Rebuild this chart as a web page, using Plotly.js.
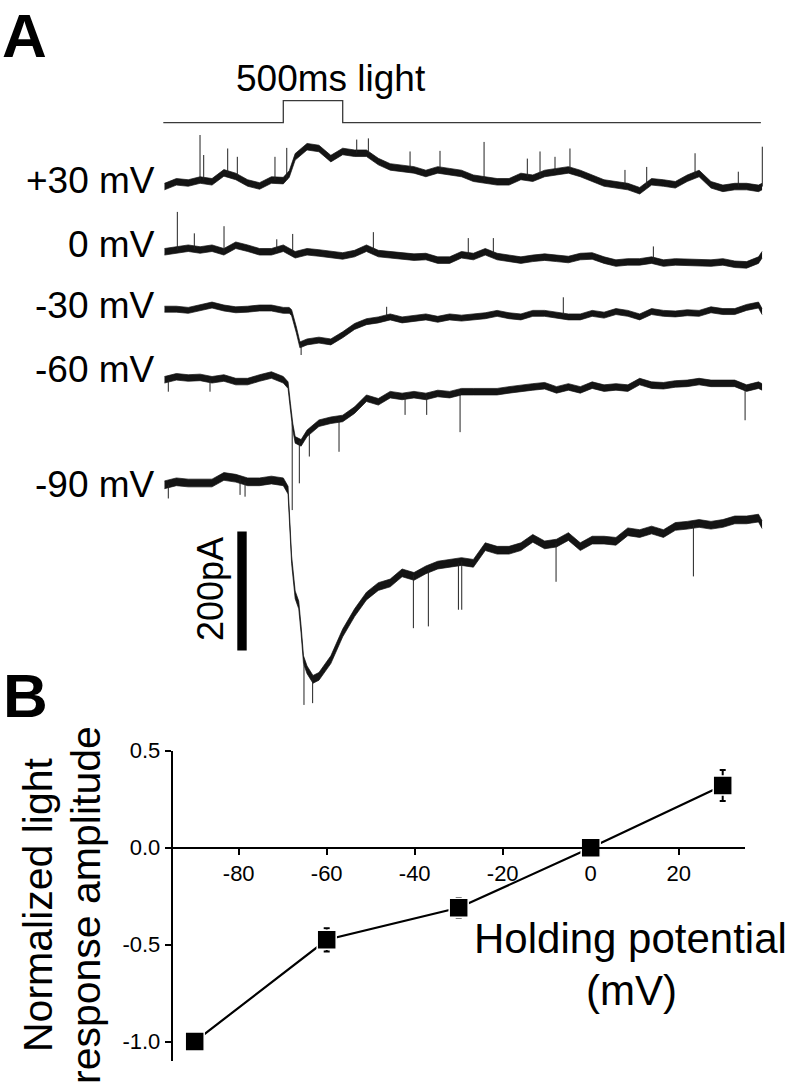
<!DOCTYPE html>
<html>
<head>
<meta charset="utf-8">
<script src="https://cdn.plot.ly/plotly-3.0.1.min.js"></script>
<style>html,body{margin:0;padding:0;background:#fff}#chart{width:795px;height:1090px}</style>
</head>
<body>
<div id="chart"></div>
<script>
// ---------------- DATA ----------------
// Panel A: whole-cell currents (pA, relative to pre-light baseline) vs time (ms)
const holdLabels = ['+30 mV', '0 mV', '-30 mV', '-60 mV', '-90 mV'];

const tP30 = [0,100,200,300,400,500,600,700,800,900,1000,1050,1100,1200,1300,1400,1500,1600,1700,1800,1900,2000,2100,2200,2300,2400,2500,2600,2700,2800,2900,3000,3100,3200,3300,3400,3500,3600,3700,3800,3900,4000,4100,4200,4300,4400,4500,4600,4700,4800,4900,5000,5030];
const vP30 = [-6,2,0,5,2,17,11,0,-5,5,4,15,44,61,58,41,53,50,50,36,27,25,22,16,22,19,16,8,5,2,2,11,8,16,19,22,16,8,0,-3,-6,-13,2,0,-3,8,16,-3,-9,-6,-6,-9,-6];
const spkTP30 = [299,330,532,613,930,1029,1618,1716,2067,2319,2690,3054,3161,3287,3413,3876,4059,4466,4830,5032];
const spkBaseP30 = [5,5,17,11,5,5,50,50,22,22,5,10,10,19,22,-5,-6,12,-6,-6];
const spkTipP30 = [86,47,58,44,44,59,73,75,53,54,69,41,53,44,58,22,27,50,19,61];

const t0mV = [0,100,200,300,400,500,600,700,800,900,1000,1100,1200,1300,1400,1500,1600,1700,1800,1900,2000,2100,2200,2300,2400,2500,2600,2700,2800,2900,3000,3100,3200,3300,3400,3500,3600,3700,3800,3900,4000,4100,4200,4300,4400,4500,4600,4700,4800,4900,5000,5030];
const v0mV = [-3,0,3,0,3,-3,8,3,-3,-3,3,-8,-3,-5,-8,-10,-6,3,-6,-8,-11,-12,-11,-17,-17,-8,-11,-3,-11,-14,-17,-14,-12,-14,-16,-11,-10,-17,-22,-20,-20,-17,-22,-20,-21,-22,-22,-20,-24,-25,-17,-8];
const spkT0mV = [108,251,501,945,1079,1758,2557,2768,4115];
const spkBase0mV = [0,1,-3,-3,0,-2,-9,-6,-18];
const spkTip0mV = [64,28,40,18,27,30,20,20,6];

const tM30 = [0,100,200,300,400,500,600,700,800,900,1000,1050,1070,1110,1140,1200,1300,1400,1500,1600,1700,1800,1900,2000,2100,2200,2300,2400,2500,2600,2700,2800,2900,3000,3100,3200,3300,3400,3500,3600,3700,3800,3900,4000,4100,4200,4300,4400,4500,4600,4700,4800,4900,5000,5030];
const vM30 = [-2,-2,-4,0,5,0,-3,-2,0,0,-4,-4,-8,-37,-62,-57,-54,-57,-45,-31,-23,-20,-15,-20,-17,-15,-19,-15,-17,-15,-13,-9,-13,-15,-9,-9,-12,-15,-15,-9,-12,-6,-9,-15,-6,-9,-10,-8,-9,-3,-6,-6,1,5,-6];
const spkTM30 = [1150,1870,3357];
const spkBaseM30 = [-62,-15,-12];
const spkTipM30 = [-79,2,18];

const tM60 = [0,100,200,300,400,500,600,700,800,900,1000,1040,1060,1080,1100,1150,1200,1300,1400,1500,1600,1700,1800,1900,2000,2100,2200,2300,2400,2500,2600,2700,2800,2900,3000,3100,3200,3300,3400,3500,3600,3700,3800,3900,4000,4100,4200,4300,4400,4500,4600,4700,4800,4900,5000,5030];
const vM60 = [-3,2,0,1,-3,0,-6,-6,0,5,-3,-12,-48,-82,-104,-109,-93,-76,-71,-68,-54,-34,-40,-28,-31,-28,-31,-26,-28,-23,-23,-23,-23,-20,-17,-15,-13,-20,-15,-20,-12,-17,-15,-17,-6,-12,-13,-10,-9,-6,-9,-9,-9,-17,-12,-15];
const spkTM60 = [32,383,1075,1135,1219,1469,2025,2207,2488,4887];
const spkBaseM60 = [-3,-3,-75,-106,-93,-68,-31,-31,-24,-15];
const spkTipM60 = [-23,-23,-222,-177,-132,-124,-62,-62,-91,-71];

const tM90 = [0,100,200,300,400,500,600,700,800,900,1000,1040,1070,1100,1130,1150,1170,1200,1250,1300,1400,1500,1600,1700,1800,1900,2000,2100,2200,2300,2400,2500,2600,2700,2800,2900,3000,3100,3200,3300,3400,3500,3600,3700,3800,3900,4000,4100,4200,4300,4400,4500,4600,4700,4800,4900,5000,5030];
const vM90 = [-3,2,0,0,0,11,8,2,2,5,2,-12,-129,-188,-205,-247,-297,-314,-330,-325,-297,-252,-218,-190,-174,-168,-151,-157,-146,-138,-135,-132,-135,-107,-113,-113,-107,-93,-104,-101,-90,-107,-96,-96,-98,-82,-85,-79,-85,-73,-71,-68,-71,-68,-62,-62,-59,-70];
const spkTM90 = [32,636,678,1174,1247,2095,2221,2474,2502,3296,4452];
const spkBaseM90 = [-3,8,2,-305,-330,-155,-146,-135,-132,-101,-70];
const spkTipM90 = [-26,-20,-23,-373,-370,-244,-241,-213,-213,-166,-157];

// light stimulus (ms, on/off)
const stimT = [-10,1000,1000,1500,1500,5020];
const stimOn = [0,0,1,1,0,0];
const stimLabel = '500ms light';
const scaleBarPA = 200;
const scaleBarLabel = '200pA';

// Panel B: normalized light response vs holding potential
const vHold = [-90,-60,-30,0,30];
const ampNorm = [-1.0,-0.475,-0.31,0.0,0.32];
const ampSem = [0,0.06,0.05,0,0.08];
const xTickVals = [-80,-60,-40,-20,0,20];
const xTickText = ['-80','-60','-40','-20','0','20'];
const yTickVals = [-1.0,-0.5,0.0,0.5];
const yTickText = ['-1.0','-0.5','0.0','0.5'];

// ---------------- LAYOUT CONSTANTS ----------------
const W = 795, H = 1090;
const px = x => x / W, py = y => 1 - y / H;
const FONT = 'Liberation Sans, Arial, Helvetica, sans-serif';
const PX_PER_PA = 0.595, PX_PER_MS = 0.1188, T0_PX = 164.5;
const ROWS = [183, 250, 308, 378, 483];
const LABEL_ROWS = [181, 244, 305, 370, 484];
const NOISE = [5.5, 5.5, 5, 5.5, 6.5];   // half thickness of the drawn noise band (pA)
const STIM_ROW = 122.7, STIM_PX = 22;

const recs = [
  {t: tP30, v: vP30, st: spkTP30, sb: spkBaseP30, sp: spkTipP30},
  {t: t0mV, v: v0mV, st: spkT0mV, sb: spkBase0mV, sp: spkTip0mV},
  {t: tM30, v: vM30, st: spkTM30, sb: spkBaseM30, sp: spkTipM30},
  {t: tM60, v: vM60, st: spkTM60, sb: spkBaseM60, sp: spkTipM60},
  {t: tM90, v: vM90, st: spkTM90, sb: spkBaseM90, sp: spkTipM90}
];

const data = [];
data.push({x: stimT, y: stimOn, xaxis: 'x', yaxis: 'y3', mode: 'lines',
  line: {color: '#3a3a3a', width: 1.3}, hoverinfo: 'skip'});

recs.forEach((r, k) => {
  const off = ROWS[k] / PX_PER_PA;
  data.push({x: r.t, y: r.v.map(a => a - NOISE[k] - off), xaxis: 'x', yaxis: 'y', mode: 'lines',
    line: {color: '#111', width: 0.7}, hoverinfo: 'skip'});
  data.push({x: r.t, y: r.v.map(a => a + NOISE[k] - off), xaxis: 'x', yaxis: 'y', mode: 'lines',
    fill: 'tonexty', fillcolor: '#141414', line: {color: '#111', width: 0.7}, hoverinfo: 'skip'});
  const sx = [], sy = [];
  r.st.forEach((tt, i) => { sx.push(tt, tt, null); sy.push(r.sb[i] - off, r.sp[i] - off, null); });
  data.push({x: sx, y: sy, xaxis: 'x', yaxis: 'y', mode: 'lines',
    line: {color: '#222', width: 1.0}, hoverinfo: 'skip', connectgaps: false});
});

const SB_T = (242 - T0_PX) / PX_PER_MS, SB_TOP = 531.5 / PX_PER_PA;
data.push({x: [SB_T, SB_T], y: [-SB_TOP, -SB_TOP - scaleBarPA], xaxis: 'x', yaxis: 'y', mode: 'lines',
  line: {color: '#000', width: 9.4}, hoverinfo: 'skip'});

data.push({x: vHold, y: ampNorm, xaxis: 'x2', yaxis: 'y2', mode: 'lines+markers',
  line: {color: '#000', width: 2.2},
  marker: {symbol: 'square', size: 19, color: '#000', line: {color: '#fff', width: 1.5}},
  error_y: {type: 'data', array: ampSem, visible: true, color: '#000', thickness: 2, width: 3},
  hoverinfo: 'skip'});

function ann(text, x, y, size, extra) {
  return Object.assign({text: text, x: px(x), y: py(y), xref: 'paper', yref: 'paper',
    showarrow: false, xanchor: 'center', yanchor: 'middle',
    font: {family: FONT, size: size, color: '#000'}}, extra || {});
}

const annotations = [
  ann('<b>A</b>', 1, 0, 62, {xanchor: 'left', yanchor: 'top', borderpad: 0}),
  ann('<b>B</b>', 1, 695, 62, {xanchor: 'left'}),
  ann(stimLabel, 331, 78, 37),
  ann(scaleBarLabel, 210, 589, 36, {textangle: -90}),
  ann('Normalized light', 38, 905, 41, {textangle: -90}),
  ann('response amplitude', 86, 905, 41, {textangle: -90}),
  ann('Holding potential', 630, 938, 42),
  ann('(mV)', 631, 990, 42)
];
holdLabels.forEach((lab, k) => annotations.push(ann(lab, 157, LABEL_ROWS[k], 37, {xanchor: 'right'})));

const layout = {
  width: W, height: H,
  margin: {l: 0, r: 0, t: 0, b: 0, pad: 0},
  paper_bgcolor: '#fff', plot_bgcolor: 'rgba(0,0,0,0)',
  showlegend: false,
  font: {family: FONT, color: '#000'},
  xaxis: {domain: [px(150), px(780)], range: [(150 - T0_PX) / PX_PER_MS, (780 - T0_PX) / PX_PER_MS], visible: false},
  yaxis: {domain: [py(720), py(135)], range: [-720 / PX_PER_PA, -135 / PX_PER_PA], visible: false, anchor: 'x'},
  yaxis3: {domain: [py(130), py(90)], range: [(STIM_ROW - 130) / STIM_PX, (STIM_ROW - 90) / STIM_PX], visible: false, anchor: 'x'},
  xaxis2: {domain: [px(172.7), px(744.7)], range: [-95, 35], anchor: 'free', position: py(847.7),
    showline: true, linewidth: 2, linecolor: '#000', ticks: 'outside', ticklen: 6, tickwidth: 2, tickcolor: '#000',
    tickvals: xTickVals, ticktext: xTickText, showgrid: false, zeroline: false,
    tickfont: {family: FONT, size: 22, color: '#000'}},
  yaxis2: {domain: [py(1061), py(750.7)], range: [-1.1, 0.5], anchor: 'x2',
    showline: true, linewidth: 2, linecolor: '#000', ticks: 'outside', ticklen: 6, tickwidth: 2, tickcolor: '#000',
    tickvals: yTickVals, ticktext: yTickText, showgrid: false, zeroline: false,
    tickfont: {family: FONT, size: 22, color: '#000'}},
  annotations: annotations
};

Plotly.newPlot('chart', data, layout, {displayModeBar: false, staticPlot: true});
</script>
</body>
</html>
